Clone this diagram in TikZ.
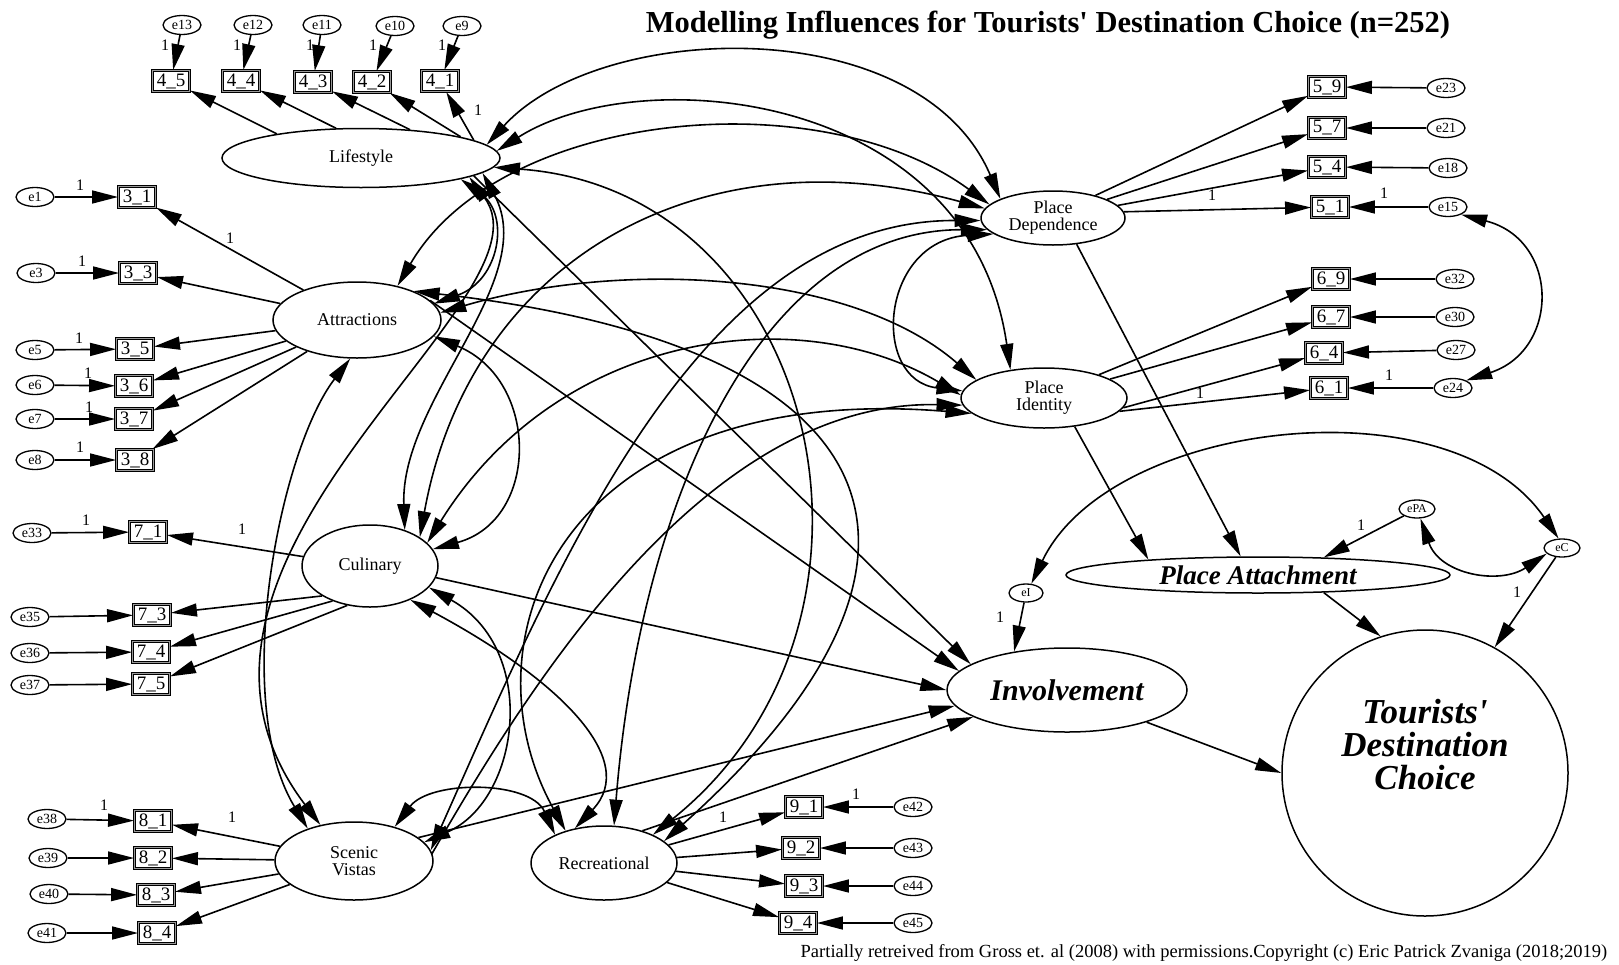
\documentclass[tikz,border=0pt]{standalone}
\usepackage{fontspec}
\setmainfont{Liberation Serif}[Ligatures=TeXOff]
\usetikzlibrary{arrows.meta,shapes.geometric}
\pgfdeclarelayer{bg}
\pgfsetlayers{bg,main}
\begin{document}
\begin{tikzpicture}[x=1pt,y=-1pt,line width=1.5pt,
  >={Triangle[length=26pt,width=13pt]},
  arr/.style={->,line width=1.6pt,black},
  cov/.style={<->,line width=1.6pt,black},
  err/.style={ellipse,draw,fill=white,line width=1.3pt,minimum width=38pt,minimum height=19pt,inner sep=0pt,font=\fontsize{14}{14}\selectfont},
  errs/.style={err,minimum width=36pt,minimum height=18pt,font=\fontsize{12}{12}\selectfont},
  ind/.style={rectangle,draw,fill=white,line width=0.9pt,double=black!40,double distance=0.6pt,minimum width=37pt,minimum height=21pt,inner sep=0pt,font=\fontsize{19}{19}\selectfont},
  lat/.style={ellipse,draw,fill=white,line width=1.5pt,inner sep=0pt,align=center,font=\fontsize{18}{17}\selectfont},
  one/.style={inner sep=0pt,font=\fontsize{16}{16}\selectfont},
]
\useasboundingbox (0,0) rectangle (1619,964);

% ---------- title and footer
\node[anchor=base,inner sep=0pt,font=\fontsize{30.5}{30.5}\selectfont\bfseries] (title) at (1048,32) {Modelling Influences for Tourists' Destination Choice (n=252)};
\node[anchor=base,inner sep=0pt,font=\fontsize{18.5}{18.5}\selectfont] (foot) at (1204,957) {Partially retreived from Gross et. al (2008) with permissions.Copyright (c) Eric Patrick Zvaniga (2018;2019)};

% ---------- latent variables
\node[lat,minimum width=278pt,minimum height=59pt] (Lif) at (361,158) {Lifestyle};
\node[lat,minimum width=168pt,minimum height=76pt] (Att) at (357,320) {Attractions};
\node[lat,minimum width=136pt,minimum height=82pt] (Cul) at (370,566) {Culinary};
\node[lat,minimum width=158pt,minimum height=78pt] (Sce) at (354,861) {Scenic\\Vistas};
\node[lat,minimum width=146pt,minimum height=74pt] (Rec) at (604,863) {Recreational};
\node[lat,minimum width=144pt,minimum height=54pt] (PD) at (1053,218) {Place\\Dependence};
\node[lat,minimum width=166pt,minimum height=60pt] (PI) at (1044,398) {Place\\Identity};
\node[lat,minimum width=384pt,minimum height=36pt,font=\fontsize{27}{27}\selectfont\bfseries\itshape] (PA) at (1258,575) {Place Attachment};
\node[lat,minimum width=240pt,minimum height=84pt,font=\fontsize{30}{30}\selectfont\bfseries\itshape] (Inv) at (1067,690) {Involvement};
\node[circle,draw,fill=white,line width=1.5pt,minimum size=286pt,inner sep=0pt] (TDC) at (1425,773) {};
\node[align=center,inner sep=0pt,font=\fontsize{35}{33}\selectfont\bfseries\itshape] (TDCt) at (1425,745) {Tourists'\\Destination\\Choice};

% ---------- Lifestyle indicators
\node[err] (e13) at (182,25) {e13};
\node[err] (e12) at (253,25) {e12};
\node[err] (e11) at (322,25) {e11};
\node[err] (e10) at (395,26) {e10};
\node[err] (e9)  at (462,26) {e9};
\node[ind] (b45) at (171,81) {4\_5};
\node[ind] (b44) at (241,81) {4\_4};
\node[ind] (b43) at (313,82) {4\_3};
\node[ind] (b42) at (372,82) {4\_2};
\node[ind] (b41) at (440,81) {4\_1};

% ---------- Attractions indicators
\node[err] (e1) at (35,197) {e1};
\node[err] (e3) at (36,273) {e3};
\node[err] (e5) at (35,350) {e5};
\node[err] (e6) at (35,385) {e6};
\node[err] (e7) at (35,419) {e7};
\node[err] (e8) at (35,460) {e8};
\node[ind] (b31) at (137,197) {3\_1};
\node[ind] (b33) at (138,273) {3\_3};
\node[ind] (b35) at (135,349) {3\_5};
\node[ind] (b36) at (134,386) {3\_6};
\node[ind] (b37) at (134,419) {3\_7};
\node[ind] (b38) at (135,460) {3\_8};

% ---------- Culinary indicators
\node[err] (e33) at (32,533) {e33};
\node[err] (e35) at (30,617) {e35};
\node[err] (e36) at (30,653) {e36};
\node[err] (e37) at (30,685) {e37};
\node[ind] (b71) at (148,532) {7\_1};
\node[ind] (b73) at (152,615) {7\_3};
\node[ind] (b74) at (151,652) {7\_4};
\node[ind] (b75) at (151,684) {7\_5};

% ---------- Scenic indicators
\node[err] (e38) at (47,819) {e38};
\node[err] (e39) at (48,858) {e39};
\node[err] (e40) at (49,894) {e40};
\node[err] (e41) at (47,933) {e41};
\node[ind] (b81) at (153,821) {8\_1};
\node[ind] (b82) at (153,858) {8\_2};
\node[ind] (b83) at (156,895) {8\_3};
\node[ind] (b84) at (157,933) {8\_4};

% ---------- Recreational indicators
\node[ind] (b91) at (804,807) {9\_1};
\node[ind] (b92) at (801,848) {9\_2};
\node[ind] (b93) at (804,886) {9\_3};
\node[ind] (b94) at (798,923) {9\_4};
\node[err] (e42) at (913,807) {e42};
\node[err] (e43) at (913,848) {e43};
\node[err] (e44) at (913,886) {e44};
\node[err] (e45) at (913,923) {e45};

% ---------- Place dependence indicators
\node[ind] (b59) at (1327,87) {5\_9};
\node[ind] (b57) at (1327,128) {5\_7};
\node[ind] (b54) at (1327,167) {5\_4};
\node[ind] (b51) at (1330,207) {5\_1};
\node[err] (e23) at (1446,88) {e23};
\node[err] (e21) at (1446,128) {e21};
\node[err] (e18) at (1448,168) {e18};
\node[err] (e15) at (1448,207) {e15};

% ---------- Place identity indicators
\node[ind] (b69) at (1331,279) {6\_9};
\node[ind] (b67) at (1331,317) {6\_7};
\node[ind] (b64) at (1324,353) {6\_4};
\node[ind] (b61) at (1329,388) {6\_1};
\node[err] (e32) at (1455,279) {e32};
\node[err] (e30) at (1455,317) {e30};
\node[err] (e27) at (1456,350) {e27};
\node[err] (e24) at (1453,388) {e24};

% ---------- structural errors
\node[errs] (ePA) at (1417,509) {ePA};
\node[errs] (eC) at (1562,548) {eC};
\node[errs,minimum width=34pt] (eI) at (1026,593) {eI};

% ---------- "1" labels
\node[one] (l1) at (165,45) {1};
\node[one] (l2) at (237,45) {1};
\node[one] (l3) at (310,45) {1};
\node[one] (l4) at (373,45) {1};
\node[one] (l5) at (442,45) {1};
\node[one] (l6) at (478,110) {1};
\node[one] (l7) at (80,185) {1};
\node[one] (l8) at (82,261) {1};
\node[one] (l9) at (79,338) {1};
\node[one] (l10) at (88,373) {1};
\node[one] (l11) at (89,407) {1};
\node[one] (l12) at (80,447) {1};
\node[one] (l13) at (230,238) {1};
\node[one] (l14) at (86,520) {1};
\node[one] (l15) at (242,529) {1};
\node[one] (l16) at (104,805) {1};
\node[one] (l17) at (232,817) {1};
\node[one] (l18) at (723,817) {1};
\node[one] (l19) at (856,794) {1};
\node[one] (l20) at (1212,195) {1};
\node[one] (l21) at (1384,193) {1};
\node[one] (l22) at (1200,393) {1};
\node[one] (l23) at (1389,375) {1};
\node[one] (l24) at (1361,525) {1};
\node[one] (l25) at (1000,617) {1};
\node[one] (l26) at (1517,592) {1};

\begin{pgfonlayer}{bg}
\begin{scope}[line width=1.6pt]
% error -> indicator
\foreach \a/\b in {e13/b45,e12/b44,e11/b43,e10/b42,e9/b41,
  e1/b31,e3/b33,e5/b35,e6/b36,e7/b37,e8/b38,
  e33/b71,e35/b73,e36/b74,e37/b75,
  e38/b81,e39/b82,e40/b83,e41/b84,
  e42/b91,e43/b92,e44/b93,e45/b94,
  e23/b59,e21/b57,e18/b54,e15/b51,
  e32/b69,e30/b67,e27/b64,e24/b61}
  {\draw[arr] (\a) -- (\b);}

% loadings
\draw[arr] (Lif.164) -- (b45);
\draw[arr] (Lif.130) -- (b44);
\draw[arr] (Lif.30) -- (b43);
\draw[arr] (Lif.12) -- (b42);
\draw[arr] (Lif.9) -- (b41);
\foreach \b in {b31,b33,b35,b36,b37,b38} {\draw[arr] (Att) -- (\b);}
\draw[arr] (Cul.172) -- (b71);
\draw[arr] (Cul.212) -- (b73);
\draw[arr] (Cul.223) -- (b74);
\draw[arr] (Cul.240) -- (b75);
\foreach \b in {b81,b82,b83,b84} {\draw[arr] (Sce) -- (\b);}
\foreach \b in {b91,b92,b93,b94} {\draw[arr] (Rec) -- (\b);}
\draw[arr] (PD.28) -- (b59);
\draw[arr] (PD.19) -- (b57);
\draw[arr] (PD.11) -- (b54);
\draw[arr] (PD.5) -- (b51);
\draw[arr] (PI.23) -- (b69);
\draw[arr] (PI.16) -- (b67);
\draw[arr] (PI.-7) -- (b64);
\draw[arr] (PI.-10) -- (b61);

% structural paths
\draw[arr] (Lif.-9) -- (Inv.165);
\draw[arr] (Att.15) -- (Inv.170);
\draw[arr] (Cul.-10) -- (Inv.180);
\draw[arr] (Sce.20) -- (Inv.188);
\draw[arr] (Rec.40) -- (Inv.196);
\draw[arr] (PD.-48) -- (PA.133);
\draw[arr] (PI.-43) -- (PA.172);
\draw[arr] (ePA) -- (PA.15);
\draw[arr] (eI) -- (Inv.144);
\draw[arr] (eC) -- (TDC.61);
\draw[arr] (PA.-15) -- (TDC.108);
\draw[arr] (Inv.-22) -- (TDC.180);

% error covariances
\draw[cov] (e15.-30) .. controls (1560,240) and (1560,350) .. (e24.30);
\draw[cov] (ePA.-70) .. controls (1440,575) and (1500,585) .. (eC.200);
\draw[cov] (eI.60) .. controls (1110,420) and (1450,380) .. (eC.110);

% factor covariances
\draw[cov] (Lif.6) .. controls (600,20) and (920,10) .. (PD.160);
\draw[cov] (Lif.3) .. controls (640,60) and (970,90) .. (PI.140);
\draw[cov] (PD.195) .. controls (880,240) and (870,380) .. (PI.175);
\draw[cov] (Lif.-12) .. controls (510,215) and (500,280) .. (Att.12);
\draw[cov] (Lif.-7) .. controls (540,280) and (400,400) .. (Cul.46);
\draw[cov] (Lif.-10) .. controls (560,300) and (120,560) .. (Sce.133);
\draw[cov] (Lif.-4) .. controls (820,190) and (920,620) .. (Rec.30);
\draw[cov] (Att.-12) .. controls (540,380) and (540,520) .. (Cul.15);
\draw[cov] (Att.-100) .. controls (280,450) and (230,700) .. (Sce.145);
\draw[cov] (Att.27) .. controls (899,346) and (981,557) .. (Rec.20);
\draw[cov] (Att.40) .. controls (500,110) and (820,80) .. (PD.168);
\draw[cov] (Att.5) .. controls (620,260) and (850,270) .. (PI.165);
\draw[cov] (Cul.-20) .. controls (540,650) and (520,800) .. (Sce.15);
\draw[cov] (Cul.-40) .. controls (560,680) and (640,760) .. (Rec.130);
\draw[cov] (Cul.30) .. controls (470,260) and (700,130) .. (PD.172);
\draw[cov] (Cul.22) .. controls (560,330) and (800,300) .. (PI.178);
\draw[cov] (Sce.40) .. controls (430,780) and (530,780) .. (Rec.150);
\draw[cov] (Sce.8) .. controls (560,560) and (700,220) .. (PD.182);
\draw[cov] (Sce.-25) .. controls (520,700) and (700,400) .. (PI.185);
\draw[cov] (Rec.75) .. controls (640,500) and (760,230) .. (PD.190);
\draw[cov] (Rec.140) .. controls (460,640) and (560,380) .. (PI.192);
\end{scope}
\end{pgfonlayer}
\end{tikzpicture}
\end{document}
